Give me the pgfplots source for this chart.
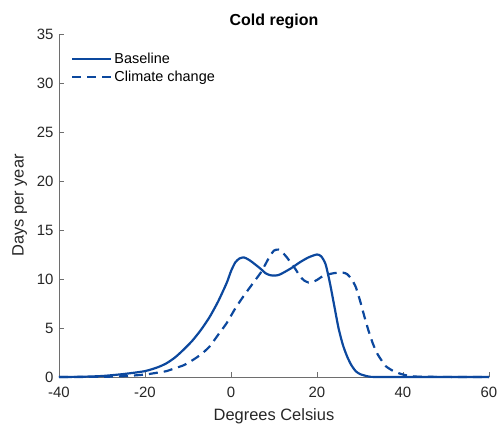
\documentclass[border=0pt]{standalone}
\usepackage{pgfplots}
\pgfplotsset{compat=1.18}
\usepackage{fontspec}
\setmainfont{Liberation Sans}
\definecolor{lineblue}{RGB}{12,72,158}
\definecolor{axgray}{RGB}{38,38,38}
\definecolor{axline}{RGB}{110,110,110}
\begin{document}
\begin{tikzpicture}
\begin{axis}[
  scale only axis, width=430bp, height=343bp,
  xmin=-40, xmax=60, ymin=0, ymax=35,
  axis lines*=left,
  axis line style={axline, line width=0.6pt},
  xtick={-40,-20,0,20,40,60}, ytick={0,5,...,35},
  tick align=inside, major tick length=5bp,
  tick style={axline, line width=0.6pt},
  ticklabel style={font=\fontsize{15}{17}\selectfont, text=axgray},
  xticklabel style={yshift=-7bp},
  yticklabel style={xshift=-2bp},
  /pgf/number format/assume math mode=true,
  xlabel={Degrees Celsius}, ylabel={Days per year},
  label style={font=\fontsize{16.5}{18}\selectfont, text=axgray},
  xlabel style={yshift=-4bp},
  ylabel style={yshift=3bp},
  title={Cold region},
  title style={font=\fontsize{16}{18}\selectfont\bfseries, yshift=-4bp},
  legend style={draw=none, fill=none, at={(rel axis cs:0.026,0.955)}, anchor=north west,
    font=\fontsize{14.5}{16}\selectfont, row sep=2bp, inner sep=1bp},
  legend cell align=left,
  legend image code/.code={\draw[#1, line width=2pt] (0cm,0cm) -- (1.38cm,0cm);},
  clip=false,
]
\addplot[lineblue, line width=2.2pt, smooth, tension=0.4] coordinates {
(-40,0) (-35,0.02) (-30,0.1) (-25,0.3) (-20,0.6) (-17,1.0) (-15,1.4) (-13,2.0) (-11,2.8) (-9,3.7) (-7,4.8) (-5,6.1) (-3,7.7) (-1,9.6) (0,10.8) (1,11.7) (2,12.1) (3,12.2) (4,12.0) (5,11.7) (7,11.0) (8,10.6) (9,10.4) (10,10.35) (11,10.4) (12,10.6) (14,11.1) (16,11.7) (18,12.2) (20,12.5) (21,12.3) (22,11.5) (23,9.6) (24,7.3) (25,5.0) (26,3.3) (27,2.1) (28,1.2) (29,0.6) (30,0.3) (32,0.05) (35,0) (60,0)
};
\addlegendentry{Baseline}
\addplot[lineblue, line width=2.2pt, dash pattern=on 9bp off 6bp, smooth, tension=0.4] coordinates {
(-40,0) (-30,0.02) (-25,0.08) (-20,0.25) (-17,0.45) (-15,0.6) (-13,0.9) (-11,1.2) (-9,1.7) (-7,2.3) (-5,3.1) (-3,4.3) (-1,5.5) (1,7.0) (3,8.3) (5,9.5) (7,10.7) (8,11.5) (9,12.3) (10,12.9) (11,13.0) (12,12.7) (13,12.2) (14,11.6) (15,11.0) (16,10.3) (17,9.85) (18,9.65) (19,9.7) (20,9.9) (21,10.2) (22,10.4) (24,10.6) (26,10.65) (27,10.5) (28,10.0) (29,9.2) (30,7.8) (31,6.2) (32,4.7) (33,3.4) (34,2.4) (35,1.7) (36,1.1) (37,0.8) (38,0.55) (40,0.25) (42,0.08) (45,0.02) (60,0)
};
\addlegendentry{Climate change}
\path (rel axis cs:-0.1372,-0.1516) rectangle (rel axis cs:1.0349,1.0991);
\end{axis}
\end{tikzpicture}
\end{document}
